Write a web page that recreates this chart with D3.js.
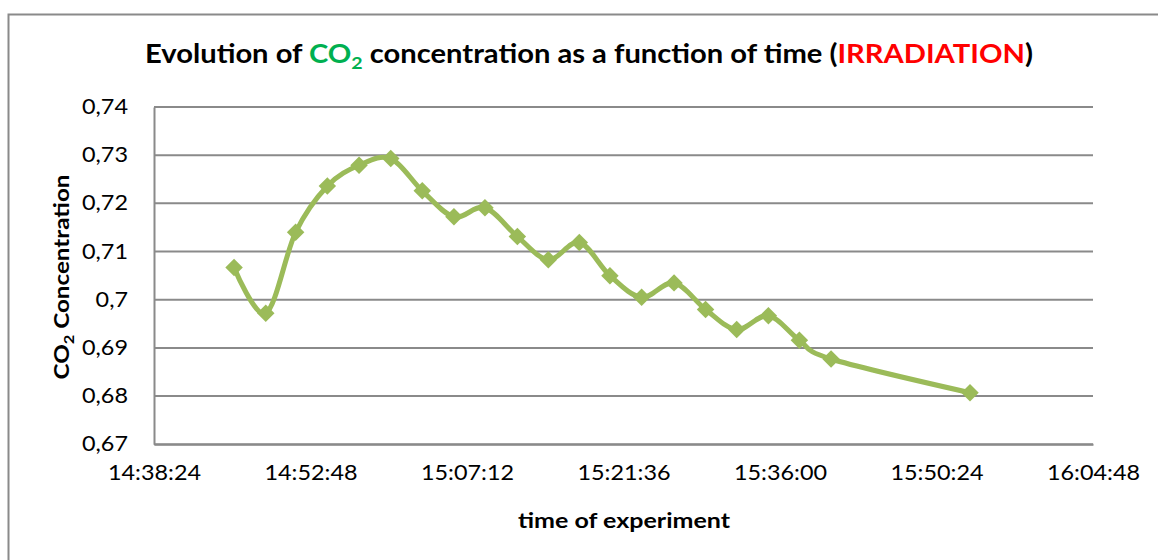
<!DOCTYPE html>
<html>
<head>
<meta charset="utf-8">
<script src="https://cdn.jsdelivr.net/npm/d3@7"></script>
<style>
  body { margin: 0; background: #fff; }
  svg { display: block; }
  text { font-family: Lato, "Open Sans", sans-serif; }
</style>
</head>
<body>
<svg id="chart" width="1158" height="560"></svg>
<script>
// Sampling times (hh:mm:ss) and measured CO2 concentration during irradiation
const sampleTimes = [
  "14:45:46", "14:48:41", "14:51:26", "14:54:21", "14:57:16", "15:00:11",
  "15:03:05", "15:06:00", "15:08:51", "15:11:50", "15:14:41", "15:17:32",
  "15:20:21", "15:23:16", "15:26:15", "15:29:09", "15:32:01", "15:34:56",
  "15:37:47", "15:40:42", "15:53:29"
];
const co2Values = [
  0.7067, 0.6972, 0.7140, 0.7236, 0.7279, 0.7293,
  0.7226, 0.7172, 0.7191, 0.7131, 0.7083, 0.7119,
  0.7050, 0.7005, 0.7035, 0.6980, 0.6938, 0.6967,
  0.6916, 0.6877, 0.6807
];
const yTickValues = [0.67, 0.68, 0.69, 0.70, 0.71, 0.72, 0.73, 0.74];
const xTickLabels = ["14:38:24", "14:52:48", "15:07:12", "15:21:36", "15:36:00", "15:50:24", "16:04:48"];

const toSeconds = s => { const [h, m, sec] = s.split(":").map(Number); return h * 3600 + m * 60 + sec; };
const fmtTime = secs => {
  const h = Math.floor(secs / 3600), m = Math.floor((secs % 3600) / 60), s = Math.round(secs % 60);
  return [h, m, s].map(v => String(v).padStart(2, "0")).join(":");
};
const fmtComma = v => String(+v.toFixed(2)).replace(".", ",");

const data = sampleTimes.map((t, i) => ({ t: toSeconds(t), v: co2Values[i] }));
const xTickSecs = xTickLabels.map(toSeconds);

const plot = { left: 154, right: 1093, top: 107, bottom: 444.3 };
const lineColor = "#9BBB59";
const gridColor = "#8a8a8a";

const svg = d3.select("#chart");

// outer chart frame
svg.append("rect")
  .attr("x", 8.5).attr("y", 14.5).attr("width", 1200).attr("height", 600)
  .attr("fill", "none").attr("stroke", gridColor).attr("stroke-width", 2);

const x = d3.scaleLinear().domain([xTickSecs[0], xTickSecs[xTickSecs.length - 1]]).range([plot.left, plot.right]);
const y = d3.scaleLinear().domain([0.67, 0.74]).range([plot.bottom, plot.top]);

// horizontal gridlines
svg.append("g")
  .selectAll("line")
  .data(yTickValues)
  .join("line")
  .attr("x1", plot.left).attr("x2", plot.right)
  .attr("y1", d => y(d)).attr("y2", d => y(d))
  .attr("stroke", gridColor).attr("stroke-width", 2);

// y axis
const yAxis = svg.append("g")
  .attr("transform", `translate(${plot.left},0)`)
  .call(d3.axisLeft(y).tickValues(yTickValues).tickFormat(fmtComma).tickSize(0).tickPadding(26));
yAxis.select(".domain").attr("stroke", gridColor).attr("stroke-width", 2);
yAxis.selectAll("text").attr("font-size", 20.5).attr("fill", "#000");

// x axis
const xAxis = svg.append("g")
  .attr("transform", `translate(0,${plot.bottom})`)
  .call(d3.axisBottom(x).tickValues(xTickSecs).tickFormat(fmtTime).tickSize(0).tickPadding(21));
xAxis.select(".domain").attr("stroke", gridColor).attr("stroke-width", 2);
xAxis.selectAll("text").attr("font-size", 20.5).attr("fill", "#000");

// widen tick labels to the chart's condensed-font proportions
function stretch(sel, factor) {
  sel.each(function () {
    const w = this.getComputedTextLength();
    d3.select(this).attr("textLength", w * factor).attr("lengthAdjust", "spacingAndGlyphs");
  });
}
const yRef = yAxis.selectAll("text").filter(d => Math.abs(d - 0.74) < 1e-9).node().getComputedTextLength();
stretch(yAxis.selectAll("text"), 46 / yRef);
const xRef = xAxis.selectAll("text").node().getComputedTextLength();
stretch(xAxis.selectAll("text"), 93 / xRef);

// smoothed series line
const line = d3.line().x(d => x(d.t)).y(d => y(d.v)).curve(d3.curveCardinal.tension(0));
svg.append("path")
  .datum(data)
  .attr("d", line)
  .attr("fill", "none")
  .attr("stroke", lineColor)
  .attr("stroke-width", 5)
  .attr("stroke-linejoin", "round")
  .attr("stroke-linecap", "round");

// diamond markers
const diamond = d3.symbol().type(d3.symbolDiamond2).size(195);
svg.append("g")
  .selectAll("path")
  .data(data)
  .join("path")
  .attr("transform", d => `translate(${x(d.t)},${y(d.v)})`)
  .attr("d", diamond)
  .attr("fill", lineColor);

// fit a text block horizontally to a target width around a centre
function fitWidth(g, cx, target) {
  const bb = g.node().getBBox();
  const s = target / bb.width;
  g.attr("transform", `translate(${cx},0) scale(${s},1) translate(${-cx},0)`);
}

// title
const titleG = svg.append("g");
const title = titleG.append("text")
  .attr("x", 589).attr("y", 63)
  .attr("text-anchor", "middle")
  .attr("font-size", 26).attr("font-weight", "bold").attr("fill", "#000");
title.append("tspan").text("Evolution of ");
title.append("tspan").attr("fill", "#00B050").text("CO");
title.append("tspan").attr("fill", "#00B050").attr("font-size", 17.5).attr("dy", 6).text("2");
title.append("tspan").attr("dy", -6).text(" concentration as a function of time (");
title.append("tspan").attr("fill", "#FF0000").text("IRRADIATION");
title.append("tspan").text(")");
fitWidth(titleG, 589, 888);

// x axis title
const xt = svg.append("text")
  .attr("x", 624).attr("y", 528)
  .attr("text-anchor", "middle")
  .attr("font-size", 20.5).attr("font-weight", "bold").attr("fill", "#000")
  .text("time of experiment");
xt.attr("textLength", 212).attr("lengthAdjust", "spacingAndGlyphs");

// y axis title (rotated)
const ytG = svg.append("g").attr("transform", "translate(69,277) rotate(-90)");
const yInner = ytG.append("g");
const yt = yInner.append("text")
  .attr("x", 0).attr("y", 0)
  .attr("text-anchor", "middle")
  .attr("font-size", 20.5).attr("font-weight", "bold").attr("fill", "#000");
yt.append("tspan").text("CO");
yt.append("tspan").attr("font-size", 14).attr("dy", 5).text("2");
yt.append("tspan").attr("dy", -5).text(" Concentration");
fitWidth(yInner, 0, 205);
</script>
</body>
</html>
